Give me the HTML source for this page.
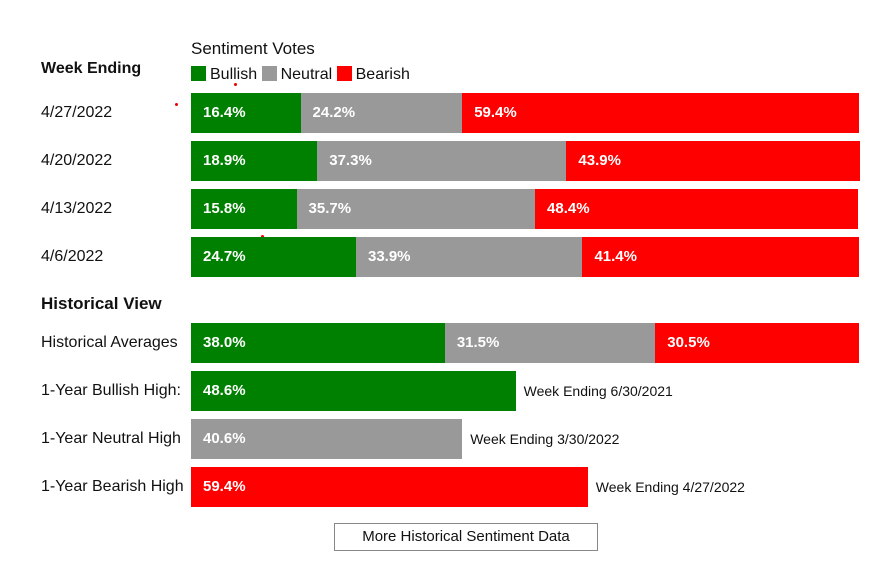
<!DOCTYPE html>
<html><head><meta charset="utf-8">
<style>
body{margin:0;background:#fff;font-family:"Liberation Sans",Arial,sans-serif;}
#c{position:relative;width:874px;height:565px;overflow:hidden;}
.t{position:absolute;color:#111;font-size:16px;white-space:nowrap;}
.b{position:absolute;height:40px;}
.v{position:absolute;color:#fff;font-weight:bold;font-size:15px;line-height:40px;white-space:nowrap;}
.n{position:absolute;font-size:14px;color:#111;line-height:40px;white-space:nowrap;}
.sw{display:inline-block;width:15px;height:15px;vertical-align:-2px;margin-right:4px;}
</style></head><body>
<div id="c">
<div class="t" style="left:41px;top:60px;font-weight:bold;font-size:16px">Week Ending</div>
<div class="t" style="left:191px;top:39px;font-size:17px">Sentiment Votes</div>
<div class="t" style="left:191px;top:66px"><span><span class="sw" style="background:#008000"></span>Bullish</span> <span><span class="sw" style="background:#999"></span>Neutral</span> <span><span class="sw" style="background:#f00"></span>Bearish</span></div>
<div class="t" style="left:41px;top:294px;font-weight:bold;font-size:17px">Historical View</div>
<div style="position:absolute;left:175px;top:103px;width:3px;height:3px;border-radius:2px;background:#e00"></div>
<div style="position:absolute;left:234px;top:83px;width:3px;height:3px;border-radius:2px;background:#e00"></div>
<div style="position:absolute;left:261px;top:235px;width:3px;height:3px;border-radius:2px;background:#e00"></div>
<div style="position:absolute;left:334px;top:523px;width:262px;height:26px;border:1px solid #888;font-size:15px;text-align:center;line-height:26px;color:#111">More Historical Sentiment Data</div>
</div>
<script>
const weeks=["4/27/2022","4/20/2022","4/13/2022","4/6/2022"];
const bullish=[16.4,18.9,15.8,24.7];
const neutral=[24.2,37.3,35.7,33.9];
const bearish=[59.4,43.9,48.4,41.4];
const histLabels=["Historical Averages","1-Year Bullish High:","1-Year Neutral High","1-Year Bearish High"];
const avg=[38.0,31.5,30.5];
const highs=[48.6,40.6,59.4];
const highWeeks=["Week Ending 6/30/2021","Week Ending 3/30/2022","Week Ending 4/27/2022"];
const colors=["#008000","#999999","#ff0000"];
const X0=191,W=668;
const xs=v=>v/100*W;
const c=document.getElementById('c');
function add(cls,style,txt){const e=document.createElement('div');e.className=cls;Object.assign(e.style,style);if(txt!=null)e.textContent=txt;c.appendChild(e);return e;}
function stack(vals,y,name){let x=X0;vals.forEach((v,i)=>{const w=xs(v);
const b=add('b',{left:x+'px',top:y+'px',width:w+'px',background:colors[i]});


const t=add('v',{left:(x+12)+'px',top:y+'px'},v.toFixed(1)+'%');


x+=w;});}
weeks.forEach((wk,i)=>{const y=93+i*48;
const l=add('t',{left:'41px',top:(y+11)+'px'},wk);


stack([bullish[i],neutral[i],bearish[i]],y,'week-bar-'+i);});
histLabels.forEach((lb,i)=>{const y=323+i*48;
const l=add('t',{left:'41px',top:(y+11)+'px'},lb);


if(i===0){stack(avg,y,'hist-avg');return;}
const v=highs[i-1],w=xs(v);
const b=add('b',{left:X0+'px',top:y+'px',width:w+'px',background:colors[i-1]});


const t=add('v',{left:(X0+12)+'px',top:y+'px'},v.toFixed(1)+'%');


const n=add('n',{left:(X0+w+8)+'px',top:y+'px'},highWeeks[i-1]);

});
</script>
</body></html>
